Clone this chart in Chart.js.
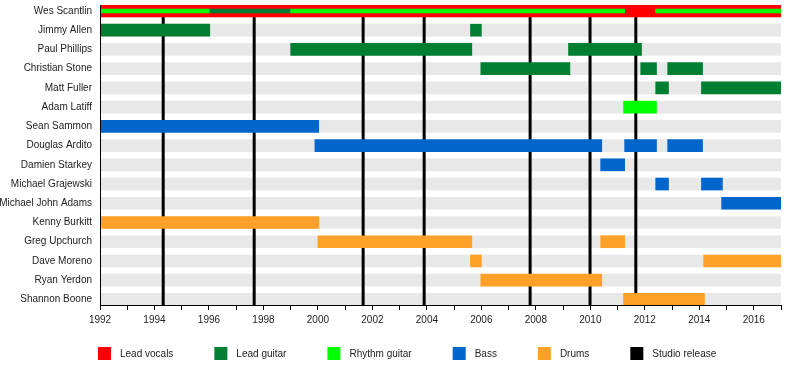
<!DOCTYPE html>
<html lang="en">
<head>
    <meta charset="UTF-8">
    <title>Band members timeline</title>
    <script src="https://cdn.jsdelivr.net/npm/chart.js"></script>
    <style>
        html, body { margin: 0; padding: 0; background: #fff; overflow: hidden; }
        .chart-container { position: relative; width: 800px; height: 365px; }
    </style>
</head>
<body>
    <div class="chart-container">
        <canvas id="timeline"></canvas>
    </div>

    <script>
        // Members, top to bottom
        const members = [
            'Wes Scantlin', 'Jimmy Allen', 'Paul Phillips', 'Christian Stone', 'Matt Fuller',
            'Adam Latiff', 'Sean Sammon', 'Douglas Ardito', 'Damien Starkey', 'Michael Grajewski',
            'Michael John Adams', 'Kenny Burkitt', 'Greg Upchurch', 'Dave Moreno', 'Ryan Yerdon',
            'Shannon Boone'
        ];

        const firstYear = 1992;
        const lastYear = 2017;

        // [member, from, to] in decimal years
        const leadVocals = [['Wes Scantlin', 1992, 2017]];
        const wesRhythm = [['Wes Scantlin', 1992, 1996.0], ['Wes Scantlin', 1999.0, 2011.26], ['Wes Scantlin', 2012.4, 2017]];
        const wesLead = [['Wes Scantlin', 1996.0, 1999.0]];
        const leadGuitar = [
            ['Jimmy Allen', 1992, 1996.03], ['Jimmy Allen', 2005.6, 2006.0],
            ['Paul Phillips', 1999.0, 2005.65], ['Paul Phillips', 2009.2, 2011.88],
            ['Christian Stone', 2005.98, 2009.25], ['Christian Stone', 2011.85, 2012.43], ['Christian Stone', 2012.84, 2014.12],
            ['Matt Fuller', 2012.4, 2012.87], ['Matt Fuller', 2014.08, 2017]
        ];
        const rhythmGuitar = [['Adam Latiff', 2011.22, 2012.43]];
        const bass = [
            ['Sean Sammon', 1992, 2000.03],
            ['Douglas Ardito', 1999.89, 2010.42], ['Douglas Ardito', 2011.26, 2012.43], ['Douglas Ardito', 2012.84, 2014.12],
            ['Damien Starkey', 2010.38, 2011.26],
            ['Michael Grajewski', 2012.4, 2012.87], ['Michael Grajewski', 2014.08, 2014.85],
            ['Michael John Adams', 2014.82, 2017]
        ];
        const drums = [
            ['Kenny Burkitt', 1992, 2000.03],
            ['Greg Upchurch', 2000.0, 2005.65], ['Greg Upchurch', 2010.38, 2011.26],
            ['Dave Moreno', 2005.6, 2006.0], ['Dave Moreno', 2014.16, 2017],
            ['Ryan Yerdon', 2005.98, 2010.42],
            ['Shannon Boone', 2011.22, 2014.19]
        ];
        const studioReleases = [1994.32, 1997.66, 2001.66, 2003.9, 2007.79, 2009.99, 2011.67];

        const legendNames = ['Lead vocals', 'Lead guitar', 'Rhythm guitar', 'Bass', 'Drums', 'Studio release'];

        // Colours
        const colors = {
            vocals: '#ff0000',
            lead: '#007f33',
            rhythm: '#00ff00',
            bass: '#0066cc',
            drums: '#ffa028',
            release: '#000000',
            stripe: '#e8e8e8',
            text: '#222222'
        };
        const legendColors = [colors.vocals, colors.lead, colors.rhythm, colors.bass, colors.drums, colors.release];

        // y scale runs a bit past the first / last rows
        const yMin = -0.31;
        const yMax = 15.29;

        function toBars(list) {
            return list.map(([name, from, to]) => ({ x: [from, to], y: members.indexOf(name) }));
        }

        function barSet(data, color, order, thickness) {
            return {
                type: 'bar',
                data: data,
                backgroundColor: color,
                barThickness: thickness || 12,
                grouped: false,
                order: order
            };
        }

        const stripes = members.map((m, i) => ({ x: [firstYear, lastYear], y: i }));
        const releaseLines = studioReleases.flatMap(yr => [
            { x: yr, y: yMin }, { x: yr, y: yMax }, { x: null, y: yMax }
        ]);

        // Legend drawn under the axis
        const roleLegend = {
            id: 'roleLegend',
            afterDraw(chart) {
                const ctx = chart.ctx;
                ctx.save();
                ctx.font = '10px "Liberation Sans", Arial, sans-serif';
                ctx.textBaseline = 'middle';
                let x = 98;
                legendNames.forEach((name, i) => {
                    ctx.fillStyle = legendColors[i];
                    ctx.fillRect(x, 347, 13, 13);
                    ctx.fillStyle = colors.text;
                    ctx.fillText(name, x + 22, 354);
                    x += 22 + ctx.measureText(name).width + 41;
                });
                ctx.restore();
            }
        };

        Chart.defaults.font.family = '"Liberation Sans", Arial, sans-serif';
        Chart.defaults.font.size = 10;
        Chart.defaults.color = colors.text;

        new Chart(document.getElementById('timeline'), {
            type: 'bar',
            data: {
                datasets: [
                    barSet(toBars(wesRhythm), colors.rhythm, 0, 4),
                    barSet(toBars(wesLead), colors.lead, 0, 4),
                    barSet(toBars(leadVocals), colors.vocals, 1),
                    barSet(toBars(leadGuitar), colors.lead, 1),
                    barSet(toBars(rhythmGuitar), colors.rhythm, 1),
                    barSet(toBars(bass), colors.bass, 1),
                    barSet(toBars(drums), colors.drums, 1),
                    {
                        type: 'line',
                        data: releaseLines,
                        borderColor: colors.release,
                        borderWidth: 3,
                        pointRadius: 0,
                        fill: false,
                        spanGaps: false,
                        order: 2
                    },
                    barSet(stripes, colors.stripe, 3)
                ]
            },
            options: {
                indexAxis: 'y',
                responsive: true,
                maintainAspectRatio: false,
                animation: false,
                layout: { padding: { left: 0, right: 19, top: 5, bottom: 39 } },
                plugins: {
                    legend: { display: false },
                    tooltip: { enabled: false }
                },
                scales: {
                    x: {
                        type: 'linear',
                        min: firstYear,
                        max: lastYear,
                        grid: { drawOnChartArea: false, tickLength: 5, color: '#000' },
                        border: { color: '#000', width: 1, z: 1 },
                        ticks: {
                            stepSize: 1,
                            autoSkip: false,
                            maxRotation: 0,
                            padding: 4,
                            callback: v => (v % 2 === 0 ? String(v) : '')
                        },
                        afterFit: scale => {
                            scale.height = 21;
                        }
                    },
                    y: {
                        type: 'linear',
                        reverse: true,
                        offset: false,
                        min: yMin,
                        max: yMax,
                        afterBuildTicks: scale => {
                            scale.ticks = members.map((m, i) => ({ value: i }));
                        },
                        afterFit: scale => {
                            scale.width = 100;
                            scale.paddingTop = 0;
                            scale.paddingBottom = 0;
                        },
                        grid: { display: false },
                        border: { color: '#000', width: 1, z: 1 },
                        ticks: {
                            autoSkip: false,
                            padding: 0,
                            callback: v => members[v]
                        }
                    }
                }
            },
            plugins: [roleLegend]
        });
    </script>
</body>
</html>
